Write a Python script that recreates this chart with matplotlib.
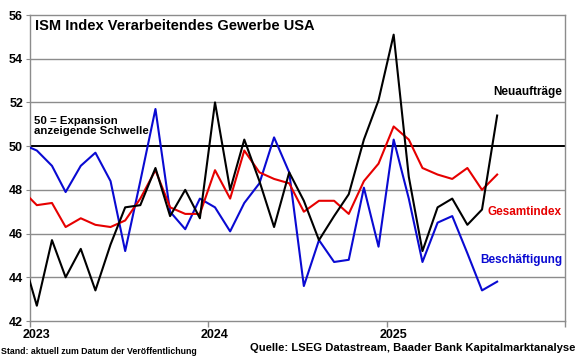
import matplotlib
matplotlib.use('Agg')
import matplotlib.pyplot as plt
import pandas as pd

plt.rcParams['font.family'] = ['Liberation Sans', 'DejaVu Sans']

# Monatswerte Dez 2022 - Aug 2025 (Mitte des Monats geplottet)
monate = pd.date_range('2022-12-01', '2025-08-01', freq='MS') + pd.Timedelta(days=14)

neuauftraege = [45.1, 42.7, 45.7, 44.0, 45.3, 43.4, 45.5, 47.2, 47.3, 49.0, 46.8, 48.0, 46.7,
                52.0, 48.0, 50.3, 48.4, 46.3, 48.8, 47.5, 45.7, 46.8, 47.8, 50.3, 52.1,
                55.1, 48.6, 45.2, 47.2, 47.6, 46.4, 47.1, 51.4]
gesamtindex = [48.0, 47.3, 47.4, 46.3, 46.7, 46.4, 46.3, 46.6, 47.6, 48.9, 47.2, 46.9, 46.9,
               48.9, 47.6, 49.8, 48.8, 48.5, 48.3, 47.0, 47.5, 47.5, 46.9, 48.4, 49.2,
               50.9, 50.3, 49.0, 48.7, 48.5, 49.0, 48.0, 48.7]
beschaeftigung = [50.1, 49.8, 49.1, 47.9, 49.1, 49.7, 48.4, 45.2, 48.4, 51.7, 47.0, 46.2, 47.6,
                  47.2, 46.1, 47.4, 48.3, 50.4, 48.8, 43.6, 45.7, 44.7, 44.8, 48.1, 45.4,
                  50.3, 47.6, 44.7, 46.5, 46.8, 45.1, 43.4, 43.8]

jahre = ['2023', '2024', '2025']

fig = plt.figure(figsize=(5.8, 3.59), dpi=100)
ax = fig.add_axes([30 / 580, 1 - 321 / 359, 535 / 580, 306 / 359])

grau = '#8c8c8c'
for y in [44, 46, 48, 52, 54]:
    ax.axhline(y, color=grau, lw=1.0, zorder=1)
ax.axhline(50, color='black', lw=1.4, zorder=2)

ax.plot(monate, beschaeftigung, color='#0a0ad2', lw=1.5, zorder=3)
ax.plot(monate, gesamtindex, color='#e60000', lw=1.5, zorder=4)
ax.plot(monate, neuauftraege, color='black', lw=1.5, zorder=5)

ax.set_xlim(pd.Timestamp('2023-01-01'), pd.Timestamp('2026-01-01'))
ax.set_ylim(42, 56)
ax.set_yticks(range(42, 57, 2))
ax.set_yticklabels([str(v) for v in range(42, 57, 2)], fontweight='bold', fontsize=9)

# Jahreslabels mittig unter Januar, Striche an den Jahresgrenzen
ax.set_xticks([pd.Timestamp(j + '-01-15') for j in jahre])
ax.set_xticklabels(jahre, fontweight='bold', fontsize=9)
ax.set_xticks([pd.Timestamp(f'{j}-01-01') for j in range(2023, 2027)], minor=True)
ax.tick_params(axis='x', which='major', length=0, pad=6)
ax.tick_params(axis='x', which='minor', length=4, color=grau, width=1)
ax.tick_params(axis='y', length=3, color=grau, pad=2)

for s in ax.spines.values():
    s.set_color(grau)
    s.set_linewidth(1.0)

fig.text(35 / 580, 1 - 26 / 359, 'ISM Index Verarbeitendes Gewerbe USA',
         fontsize=10.5, fontweight='bold', va='center')
fig.text(34 / 580, 1 - 126 / 359, '50 = Expansion\nanzeigende Schwelle',
         fontsize=8.2, fontweight='bold', va='center', linespacing=1.05)
fig.text(562 / 580, 1 - 92 / 359, 'Neuaufträge', fontsize=8.5, fontweight='bold',
         ha='right', va='center', color='black')
fig.text(562 / 580, 1 - 212 / 359, 'Gesamtindex', fontsize=8.5, fontweight='bold',
         ha='right', va='center', color='#e60000')
fig.text(562 / 580, 1 - 260 / 359, 'Beschäftigung', fontsize=8.5, fontweight='bold',
         ha='right', va='center', color='#0a0ad2')
fig.text(1 / 580, 1 - 351 / 359, 'Stand: aktuell zum Datum der Veröffentlichung',
         fontsize=6.3, fontweight='bold', va='center')
fig.text(575 / 580, 1 - 348 / 359, 'Quelle: LSEG Datastream, Baader Bank Kapitalmarktanalyse',
         fontsize=8.1, fontweight='bold', ha='right', va='center')

fig.savefig('out.png', dpi=100)
